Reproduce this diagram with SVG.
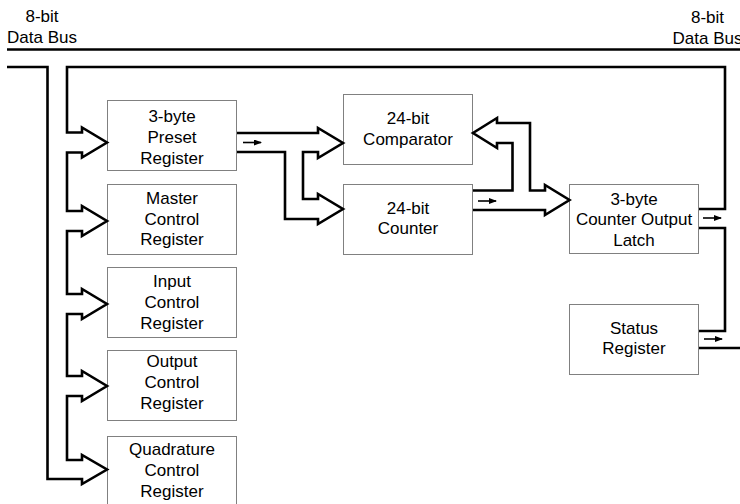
<svg xmlns="http://www.w3.org/2000/svg" width="740" height="504" viewBox="0 0 740 504">
  <defs>
    <style>
      .box { fill: #ffffff; stroke: #808080; stroke-width: 1; }
      .lbl { font-family: "Liberation Sans", Arial, sans-serif; font-size: 17px; fill: #000000; text-anchor: middle; }
      .bus { fill: none; stroke: #000000; stroke-width: 2.6; stroke-linejoin: miter; stroke-miterlimit: 10; }
      .dir { fill: none; stroke: #000000; stroke-width: 1.6; marker-end: url(#tip); }
    </style>
    <marker id="tip" markerUnits="userSpaceOnUse" markerWidth="8" markerHeight="6" refX="7" refY="3" orient="auto">
      <path d="M0,0 L8,3 L0,6 z" fill="#000000"/>
    </marker>
  </defs>

  <rect x="0" y="0" width="740" height="504" fill="#ffffff"/>

  <!-- bus labels -->
  <g id="bus-label-left">
    <text class="lbl" x="42" y="22">8-bit</text>
    <text class="lbl" x="42" y="43">Data Bus</text>
  </g>
  <g id="bus-label-right">
    <text class="lbl" x="707.5" y="23">8-bit</text>
    <text class="lbl" x="707.5" y="44">Data Bus</text>
  </g>

  <!-- registers -->
  <g id="preset-register">
    <rect class="box" x="107.5" y="100.5" width="129" height="70"/>
    <text class="lbl" x="172" y="121.5">3-byte</text>
    <text class="lbl" x="172" y="143">Preset</text>
    <text class="lbl" x="172" y="163.5">Register</text>
  </g>
  <g id="master-control-register">
    <rect class="box" x="107.5" y="184.5" width="129" height="70"/>
    <text class="lbl" x="172" y="203.5">Master</text>
    <text class="lbl" x="172" y="224.5">Control</text>
    <text class="lbl" x="172" y="245">Register</text>
  </g>
  <g id="input-control-register">
    <rect class="box" x="107.5" y="267.5" width="129" height="70"/>
    <text class="lbl" x="172" y="287">Input</text>
    <text class="lbl" x="172" y="308">Control</text>
    <text class="lbl" x="172" y="328.5">Register</text>
  </g>
  <g id="output-control-register">
    <rect class="box" x="107.5" y="350.5" width="129" height="70"/>
    <text class="lbl" x="172" y="367">Output</text>
    <text class="lbl" x="172" y="388">Control</text>
    <text class="lbl" x="172" y="409">Register</text>
  </g>
  <g id="quadrature-control-register">
    <rect class="box" x="107.5" y="436.5" width="129" height="74"/>
    <text class="lbl" x="172" y="454.5">Quadrature</text>
    <text class="lbl" x="172" y="475.5">Control</text>
    <text class="lbl" x="172" y="496.5">Register</text>
  </g>
  <g id="comparator">
    <rect class="box" x="343.5" y="94.5" width="129" height="70"/>
    <text class="lbl" x="408" y="123.5">24-bit</text>
    <text class="lbl" x="408" y="144.5">Comparator</text>
  </g>
  <g id="counter">
    <rect class="box" x="343.5" y="184.5" width="129" height="70"/>
    <text class="lbl" x="408" y="213.5">24-bit</text>
    <text class="lbl" x="408" y="234">Counter</text>
  </g>
  <g id="counter-output-latch">
    <rect class="box" x="569.5" y="184.5" width="129" height="69"/>
    <text class="lbl" x="634" y="204.5">3-byte</text>
    <text class="lbl" x="634" y="225">Counter Output</text>
    <text class="lbl" x="634" y="245.5">Latch</text>
  </g>
  <g id="status-register">
    <rect class="box" x="569.5" y="304.5" width="129" height="70"/>
    <text class="lbl" x="634" y="333.5">Status</text>
    <text class="lbl" x="634" y="354">Register</text>
  </g>

  <!-- connectors -->
  <g id="connectors">
    <!-- data bus -->
    <path class="bus" d="M7,49.5 H740"/>
    <!-- latch output loop feeding every register on the left -->
    <path class="bus" d="M699,209 H725 V67 H67 V132.5 H82 V127.5 L107,142.5 L82,157.5 V152.5 H67
      V211 H82 V206 L107,221 L82,236 V231 H67
      V294 H82 V289 L107,304 L82,319 V314 H67
      V376 H82 V371 L107,386 L82,401 V396 H67
      V460 H82 V455 L107,469.5 L82,484 V479 H47.5 V67 H7"/>
    <!-- preset to comparator and counter -->
    <path class="bus" d="M237,133 H318 V128 L343,143 L318,158 V152 H303 V199 H318 V194 L343,209 L318,224 V219 H285 V152 H237"/>
    <!-- counter to comparator -->
    <path class="bus" d="M473,190.5 H512.5 V143 H497 V148 L473,133 L497,118 V123 H530 V190.5 H545 V185 L569.5,200 L545,215 V210 H473"/>
    <!-- latch to status, status out -->
    <path class="bus" d="M699,228 H725 V331 H699"/>
    <path class="bus" d="M699,348 H740"/>
    <!-- direction marks -->
    <path class="dir" d="M243,142.5 H261"/>
    <path class="dir" d="M478,201 H496"/>
    <path class="dir" d="M703,218 H721"/>
    <path class="dir" d="M704,339 H722"/>
  </g>
</svg>
